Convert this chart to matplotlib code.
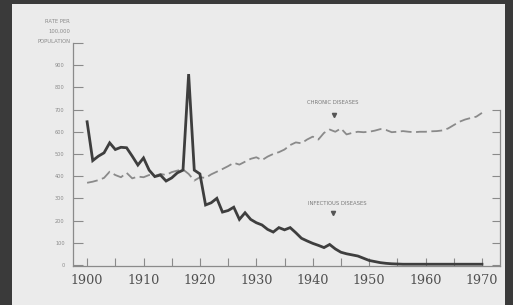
import matplotlib
matplotlib.use("Agg")
import matplotlib.pyplot as plt

years = list(range(1900, 1971))

infectious = [
    645, 470, 490, 505, 550, 520, 530, 528, 490, 450,
    482, 427, 398, 405, 378, 392, 415, 427, 860, 427,
    410, 270, 280, 300, 238, 245, 260, 205, 235, 205,
    190, 180, 160, 148, 168, 158, 168, 145, 120, 108,
    97, 88, 78, 92, 72, 57, 50, 45, 40, 30,
    20, 15, 10, 7, 5, 4, 3, 3, 3, 3,
    3, 3, 3, 3, 3, 3, 3, 3, 3, 3, 3,
]

chronic = [
    370, 375, 382, 392, 420, 405, 395, 415, 390, 398,
    395, 405, 400, 410, 405, 418, 425, 430, 410, 380,
    395, 392, 408, 420, 432, 445, 460, 452, 465, 478,
    485, 472, 488, 500, 508, 520, 540, 552, 548, 565,
    578, 565, 595, 610, 600, 615, 588, 595, 600, 598,
    600, 605, 612, 608, 598, 600, 603, 600, 598, 600,
    600, 602, 603, 606, 615, 630, 645, 655, 662, 668, 685,
]

y_ticks = [0, 100, 200, 300, 400, 500, 600, 700, 800, 900, 1000]
y_labels = ["0", "100", "200", "300", "400", "500", "600", "700", "800", "900", ""]
right_ticks = [0, 100, 200, 300, 400, 500, 600, 700]
x_ticks = [1900, 1910, 1920, 1930, 1940, 1950, 1960, 1970]

fig = plt.figure(figsize=(5.13, 3.05), dpi=100, facecolor="#3a3a3a")

# the light page inside the dark frame of the photo
page = fig.add_axes([12 / 513, 0, 493 / 513, 301 / 305], zorder=0)
page.set_facecolor("#ebebeb")
page.set_xticks([])
page.set_yticks([])
for s in page.spines.values():
    s.set_visible(False)

ax = fig.add_axes([73 / 513, 39 / 305, 427 / 513, 223 / 305], zorder=1)
ax.set_facecolor("none")

ax.plot(years, chronic, color="#8a8a8a", lw=1.3, dashes=(6, 2.5))
ax.plot(years, infectious, color="#3e3e3e", lw=2.0, solid_joinstyle="miter")

ax.set_xlim(1897.5, 1973.2)
ax.set_ylim(-5, 1000)

ax.spines["top"].set_visible(False)
ax.spines["right"].set_visible(False)
for s in ["left", "bottom"]:
    ax.spines[s].set_color("#8a8a8a")
    ax.spines[s].set_linewidth(0.9)

ax.set_yticks(y_ticks)
ax.set_yticklabels(y_labels)
ax.set_xticks(x_ticks)
ax.set_xticks(list(range(1905, 1971, 10)), minor=True)
ax.tick_params(axis="y", direction="in", length=7, width=0.8, color="#8a8a8a",
               labelsize=3.6, labelcolor="#8a8a8a", pad=6)
ax.tick_params(axis="x", which="both", direction="in", length=6, width=0.8,
               color="#8a8a8a", labelsize=9.2, labelcolor="#505050", pad=6)
for lab in ax.get_xticklabels():
    lab.set_family("DejaVu Serif")

# right-hand frame only runs up to 700
rax = ax.twinx()
rax.set_ylim(ax.get_ylim())
rax.set_yticks(right_ticks)
rax.set_yticklabels([])
rax.tick_params(axis="y", direction="in", length=6, width=0.8, color="#8a8a8a")
for s in ["top", "left", "bottom"]:
    rax.spines[s].set_visible(False)
rax.spines["right"].set_color("#8a8a8a")
rax.spines["right"].set_linewidth(0.9)
rax.spines["right"].set_bounds(-5, 700)

fig.text(70 / 513, 1 - 31.5 / 305, "RATE PER\n100,000\nPOPULATION", ha="right",
         va="center", fontsize=3.8, color="#8a8a8a", linespacing=2.3)

ax.text(1943.5, 732, "CHRONIC DISEASES", ha="center", va="center",
        fontsize=3.8, color="#7a7a7a")
ax.plot([1943.7], [675], marker="v", ms=3, color="#555555")
ax.text(1944.3, 277, "INFECTIOUS DISEASES", ha="center", va="center",
        fontsize=3.8, color="#7a7a7a")
ax.plot([1943.6], [236], marker="v", ms=3, color="#555555")

fig.savefig("out.png", dpi=100, facecolor=fig.get_facecolor())
